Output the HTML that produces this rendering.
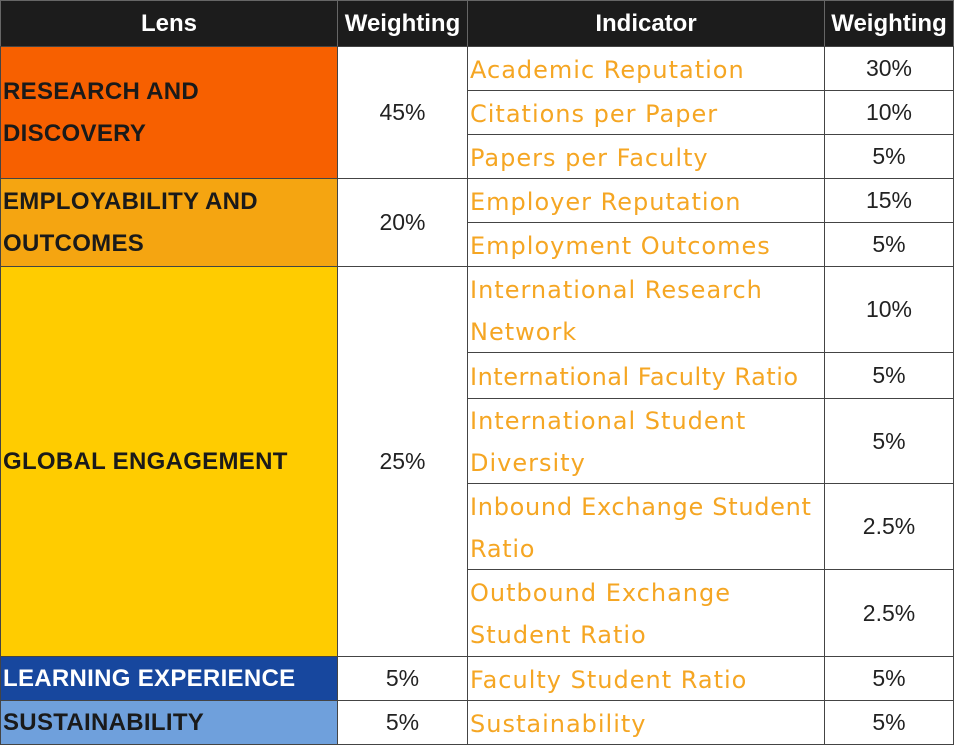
<!DOCTYPE html>
<html><head><meta charset="utf-8"><style>
body{margin:0;width:960px;height:747px;background:#fff;position:relative;overflow:hidden;font-family:"Liberation Sans","DejaVu Sans",sans-serif}
.c{position:absolute;box-sizing:border-box;border:1.5px solid #444;display:flex;align-items:center}
.h{background:#1c1c1c;color:#fff;font-weight:bold;font-size:24px;justify-content:center;border-color:#666}
.l{font-weight:bold;font-size:24px;color:#1a1a1a;padding-left:2px;line-height:42px;letter-spacing:0.3px}
.w{justify-content:center;font-size:23px;color:#222}
.i{color:#f5a623;font-family:"DejaVu Sans",sans-serif;font-size:24px;padding-left:2px;padding-top:2px;line-height:42px;letter-spacing:1px;white-space:nowrap}
</style></head><body>
<div class="c h" style="left:0;top:0;width:338px;height:47px">Lens</div>
<div class="c h" style="left:337px;top:0;width:131px;height:47px">Weighting</div>
<div class="c h" style="left:467px;top:0;width:358px;height:47px">Indicator</div>
<div class="c h" style="left:824px;top:0;width:130px;height:47px">Weighting</div>

<div class="c l" style="left:0;top:46px;width:338px;height:133px;background:#f76000">RESEARCH AND<br>DISCOVERY</div>
<div class="c l" style="left:0;top:178px;width:338px;height:89px;background:#f5a511">EMPLOYABILITY AND<br>OUTCOMES</div>
<div class="c l" style="left:0;top:266px;width:338px;height:391px;background:#ffcc00">GLOBAL ENGAGEMENT</div>
<div class="c l" style="left:0;top:656px;width:338px;height:45px;background:#17479e;color:#fff">LEARNING EXPERIENCE</div>
<div class="c l" style="left:0;top:700px;width:338px;height:45px;background:#6fa0dc">SUSTAINABILITY</div>

<div class="c w" style="left:337px;top:46px;width:131px;height:133px">45%</div>
<div class="c w" style="left:337px;top:178px;width:131px;height:89px">20%</div>
<div class="c w" style="left:337px;top:266px;width:131px;height:391px">25%</div>
<div class="c w" style="left:337px;top:656px;width:131px;height:45px">5%</div>
<div class="c w" style="left:337px;top:700px;width:131px;height:45px">5%</div>

<div class="c i" style="left:467px;top:46px;width:358px;height:45px">Academic Reputation</div>
<div class="c i" style="left:467px;top:90px;width:358px;height:45px">Citations per Paper</div>
<div class="c i" style="left:467px;top:134px;width:358px;height:45px">Papers per Faculty</div>
<div class="c i" style="left:467px;top:178px;width:358px;height:45px">Employer Reputation</div>
<div class="c i" style="left:467px;top:222px;width:358px;height:45px">Employment Outcomes</div>
<div class="c i" style="left:467px;top:266px;width:358px;height:87px">International Research<br>Network</div>
<div class="c i" style="left:467px;top:352px;width:358px;height:47px;letter-spacing:0.5px">International Faculty Ratio</div>
<div class="c i" style="left:467px;top:398px;width:358px;height:86px">International Student<br>Diversity</div>
<div class="c i" style="left:467px;top:483px;width:358px;height:87px;letter-spacing:0.7px">Inbound Exchange Student<br>Ratio</div>
<div class="c i" style="left:467px;top:569px;width:358px;height:88px">Outbound Exchange<br>Student Ratio</div>
<div class="c i" style="left:467px;top:656px;width:358px;height:45px">Faculty Student Ratio</div>
<div class="c i" style="left:467px;top:700px;width:358px;height:45px">Sustainability</div>

<div class="c w" style="left:824px;top:46px;width:130px;height:45px">30%</div>
<div class="c w" style="left:824px;top:90px;width:130px;height:45px">10%</div>
<div class="c w" style="left:824px;top:134px;width:130px;height:45px">5%</div>
<div class="c w" style="left:824px;top:178px;width:130px;height:45px">15%</div>
<div class="c w" style="left:824px;top:222px;width:130px;height:45px">5%</div>
<div class="c w" style="left:824px;top:266px;width:130px;height:87px">10%</div>
<div class="c w" style="left:824px;top:352px;width:130px;height:47px">5%</div>
<div class="c w" style="left:824px;top:398px;width:130px;height:86px">5%</div>
<div class="c w" style="left:824px;top:483px;width:130px;height:87px">2.5%</div>
<div class="c w" style="left:824px;top:569px;width:130px;height:88px">2.5%</div>
<div class="c w" style="left:824px;top:656px;width:130px;height:45px">5%</div>
<div class="c w" style="left:824px;top:700px;width:130px;height:45px">5%</div>
</body></html>
